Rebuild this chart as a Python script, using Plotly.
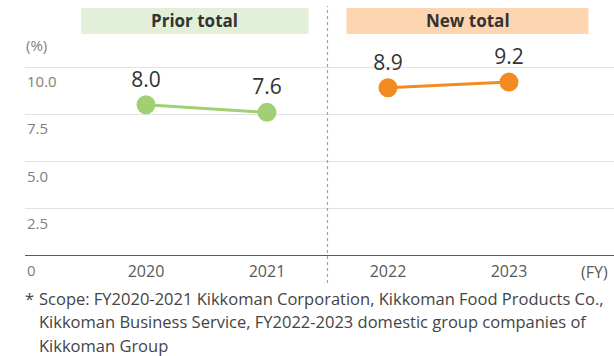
import plotly.graph_objects as go

# Data
prior_years = ["2020", "2021"]
prior_values = [8.0, 7.6]
new_years = ["2022", "2023"]
new_values = [8.9, 9.2]
all_years = prior_years + new_years
y_ticks = [2.5, 5.0, 7.5, 10.0]
y_tick_labels = ["2.5", "5.0", "7.5", "10.0"]
note_lines = [
    "Scope: FY2020-2021 Kikkoman Corporation, Kikkoman Food Products Co.,",
    "Kikkoman Business Service, FY2022-2023 domestic group companies of",
    "Kikkoman Group",
]

W, H = 614, 356
ML, MR, MT, MB = 25, 0, 20, 100
PW, PH = W - ML - MR, H - MT - MB


def fx(px):
    return (px - ML) / PW


def fy(py):
    return (H - MB - py) / PH


FONT = "Open Sans"
GREEN = "#a1d074"
ORANGE = "#f28a22"

fig = go.Figure()

fig.add_trace(go.Scatter(
    x=prior_years, y=prior_values, mode="lines+markers+text",
    text=[f"{v:.1f}" for v in prior_values], textposition="top center",
    textfont=dict(size=21, color="#333333", family=FONT),
    line=dict(color=GREEN, width=3),
    marker=dict(color=GREEN, size=19),
    cliponaxis=False, hoverinfo="skip",
))
fig.add_trace(go.Scatter(
    x=new_years, y=new_values, mode="lines+markers+text",
    text=[f"{v:.1f}" for v in new_values], textposition="top center",
    textfont=dict(size=21, color="#333333", family=FONT),
    line=dict(color=ORANGE, width=3),
    marker=dict(color=ORANGE, size=19),
    cliponaxis=False, hoverinfo="skip",
))

shapes = []
# Section header boxes
shapes.append(dict(type="rect", xref="paper", yref="paper",
                   x0=fx(81), x1=fx(308.5), y0=fy(34), y1=fy(8),
                   fillcolor="#e2efd9", line=dict(width=0), layer="below"))
shapes.append(dict(type="rect", xref="paper", yref="paper",
                   x0=fx(346.5), x1=fx(588.5), y0=fy(34), y1=fy(8),
                   fillcolor="#fdd5b1", line=dict(width=0), layer="below"))
# Divider between the two totals
shapes.append(dict(type="line", xref="paper", yref="paper",
                   x0=fx(327.5), x1=fx(327.5), y0=fy(283), y1=fy(6),
                   line=dict(color="#a0a0a0", width=1.2, dash="dot")))
# Baseline
shapes.append(dict(type="line", xref="paper", yref="y",
                   x0=0, x1=1, y0=0, y1=0,
                   line=dict(color="#222222", width=1.5)))

annotations = []
for v, lab in zip(y_ticks, y_tick_labels):
    annotations.append(dict(xref="paper", yref="y", x=0, y=v, text=lab,
                            xanchor="left", yanchor="top", yshift=-2,
                            showarrow=False,
                            font=dict(size=15, color="#808080", family=FONT)))
annotations += [
    dict(xref="paper", yref="paper", x=fx(25), y=fy(270), text="0",
         xanchor="left", yanchor="middle", showarrow=False,
         font=dict(size=15, color="#808080", family=FONT)),
    dict(xref="paper", yref="paper", x=fx(24), y=fy(45), text="(%)",
         xanchor="left", yanchor="middle", showarrow=False,
         font=dict(size=15, color="#808080", family=FONT)),
    dict(xref="paper", yref="paper", x=fx(594), y=fy(272), text="(FY)",
         xanchor="center", yanchor="middle", showarrow=False,
         font=dict(size=16, color="#595959", family=FONT)),
    dict(xref="paper", yref="paper", x=fx(194.75), y=fy(21), text="<b>Prior total</b>",
         xanchor="center", yanchor="middle", showarrow=False,
         font=dict(size=17, color="#333333", family=FONT)),
    dict(xref="paper", yref="paper", x=fx(467.5), y=fy(21), text="<b>New total</b>",
         xanchor="center", yanchor="middle", showarrow=False,
         font=dict(size=17, color="#333333", family=FONT)),
    dict(xref="paper", yref="paper", x=fx(24), y=fy(298), text="*",
         xanchor="left", yanchor="middle", showarrow=False, borderpad=0,
         font=dict(size=16.5, color="#444444", family=FONT)),
]
# Footnote, one annotation per line for even spacing
for i, line in enumerate(note_lines):
    annotations.append(dict(xref="paper", yref="paper", x=fx(38), y=fy(298 + 23.7 * i),
                            text=line, xanchor="left", yanchor="middle",
                            align="left", showarrow=False, borderpad=0,
                            font=dict(size=16.5, color="#444444", family=FONT)))

fig.update_layout(
    width=W, height=H,
    margin=dict(l=ML, r=MR, t=MT, b=MB),
    paper_bgcolor="white", plot_bgcolor="white",
    showlegend=False,
    shapes=shapes, annotations=annotations,
    xaxis=dict(type="category", categoryorder="array", categoryarray=all_years,
               range=[-1.0, 3.868], showgrid=False, zeroline=False,
               showline=False, ticks="", ticklabelstandoff=4,
               tickfont=dict(size=16, color="#595959", family=FONT),
               fixedrange=True),
    yaxis=dict(range=[0, PH / 18.9], tickvals=y_ticks, showticklabels=False,
               showgrid=True, gridcolor="#e3e3e3", gridwidth=1,
               zeroline=False, showline=False, ticks="", fixedrange=True),
)

fig.write_html("out.html", config={"displayModeBar": False})
